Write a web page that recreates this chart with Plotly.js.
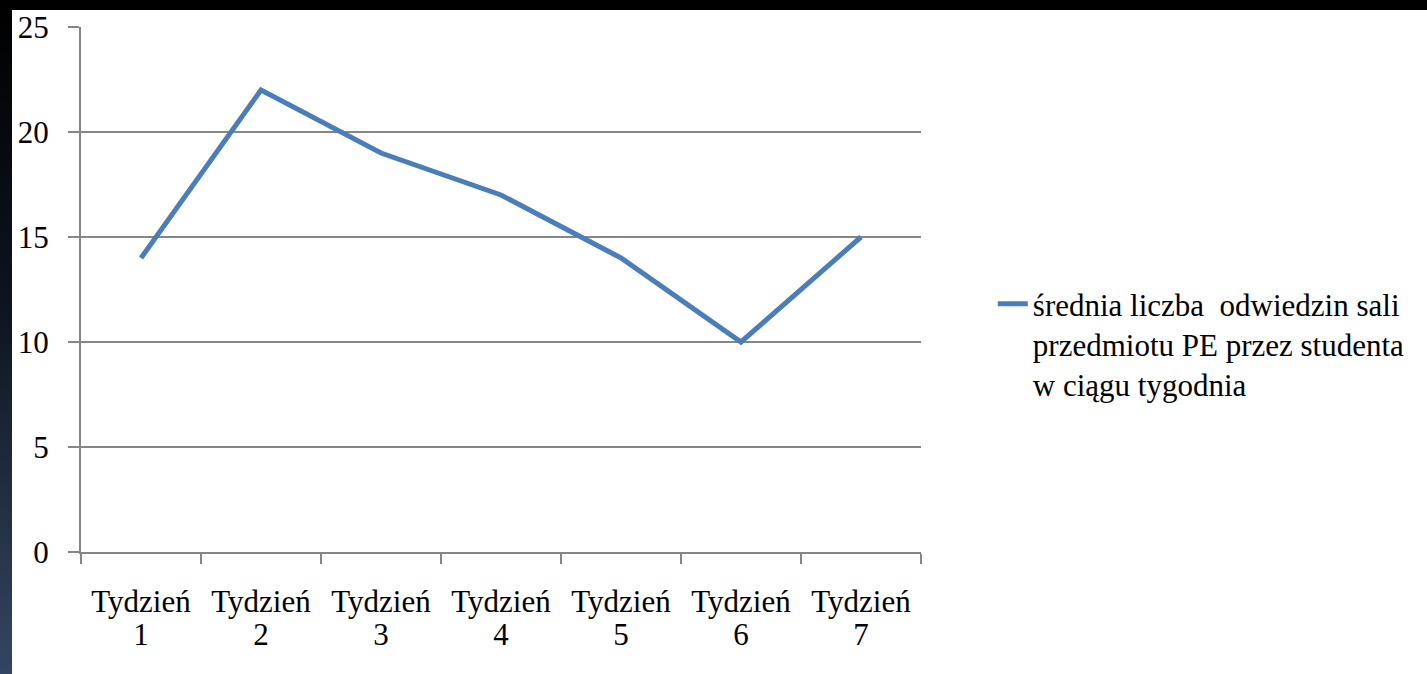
<!DOCTYPE html>
<html>
<head>
<meta charset="utf-8">
<script src="https://cdn.plot.ly/plotly-3.0.1.min.js"></script>
<style>
  html, body { margin: 0; padding: 0; width: 1427px; height: 674px; background: #000; overflow: hidden; }
  #band { position: absolute; left: 0; top: 0; width: 12px; height: 674px;
          background: linear-gradient(to bottom, #000000 0%, #0d1420 45%, #34465f 100%); }
  #chart { position: absolute; left: 12px; top: 10px; width: 1415px; height: 664px; background: #fff; }
</style>
</head>
<body>
<div id="band"></div>
<div id="chart"></div>
<script>
const weekWord = ["Tydzień", "Tydzień", "Tydzień", "Tydzień", "Tydzień", "Tydzień", "Tydzień"];
const weekNumber = ["1", "2", "3", "4", "5", "6", "7"];
const categories = weekWord.map((w, i) => w + " " + weekNumber[i]);
const values = [14, 22, 19, 17, 14, 10, 15];
const seriesName = "średnia liczba  odwiedzin sali<br>przedmiotu PE przez studenta<br>w ciągu tygodnia";
const yTicks = [0, 5, 10, 15, 20, 25];

const font = { family: "Liberation Serif", size: 31, color: "#000" };

const trace = {
  type: "scatter",
  mode: "lines",
  x: categories,
  y: values,
  name: seriesName,
  line: { color: "#4a7ebb", width: 5 },
  showlegend: true
};

// invisible companion trace so the second (number) label axis is drawn
const numberAxisTrace = {
  type: "scatter",
  mode: "lines",
  x: weekNumber.map((n, i) => i),
  y: values,
  xaxis: "x2",
  yaxis: "y",
  line: { color: "rgba(0,0,0,0)", width: 0 },
  opacity: 0,
  showlegend: false,
  hoverinfo: "skip"
};

const layout = {
  width: 1415,
  height: 664,
  paper_bgcolor: "#ffffff",
  plot_bgcolor: "#ffffff",
  margin: { l: 69, r: 506, t: 17, b: 122 },
  font: font,
  showlegend: true,
  xaxis: {
    type: "category",
    range: [-0.5, categories.length - 0.5],
    tickvals: categories,
    ticktext: weekWord,
    tickson: "boundaries",
    ticks: "outside",
    ticklen: 10,
    tickwidth: 2,
    tickcolor: "#868686",
    showline: true,
    linecolor: "#868686",
    linewidth: 2,
    showgrid: false,
    zeroline: false,
    tickfont: font,
    ticklabelstandoff: 21,
    fixedrange: true
  },
  xaxis2: {
    overlaying: "x",
    anchor: "y",
    side: "bottom",
    type: "linear",
    range: [-0.5, categories.length - 0.5],
    tickvals: weekNumber.map((n, i) => i),
    ticktext: weekNumber,
    ticks: "",
    showline: false,
    showgrid: false,
    zeroline: false,
    tickfont: font,
    ticklabelstandoff: 61,
    fixedrange: true
  },
  yaxis: {
    range: [0, 25],
    tickvals: yTicks,
    ticktext: yTicks.map(String),
    ticks: "outside",
    ticklen: 11,
    tickwidth: 2,
    tickcolor: "#868686",
    showline: true,
    linecolor: "#868686",
    linewidth: 2,
    showgrid: true,
    gridcolor: "#868686",
    gridwidth: 2,
    zeroline: false,
    tickfont: font,
    ticklabelstandoff: 13,
    ticklabeloverflow: "allow",
    fixedrange: true
  },
  legend: {
    x: 1.0855,
    xanchor: "left",
    y: 0.396,
    yanchor: "middle",
    valign: "top",
    font: font,
    bgcolor: "rgba(0,0,0,0)"
  }
};

Plotly.newPlot("chart", [trace, numberAxisTrace], layout, { displayModeBar: false, staticPlot: true });
</script>
</body>
</html>
